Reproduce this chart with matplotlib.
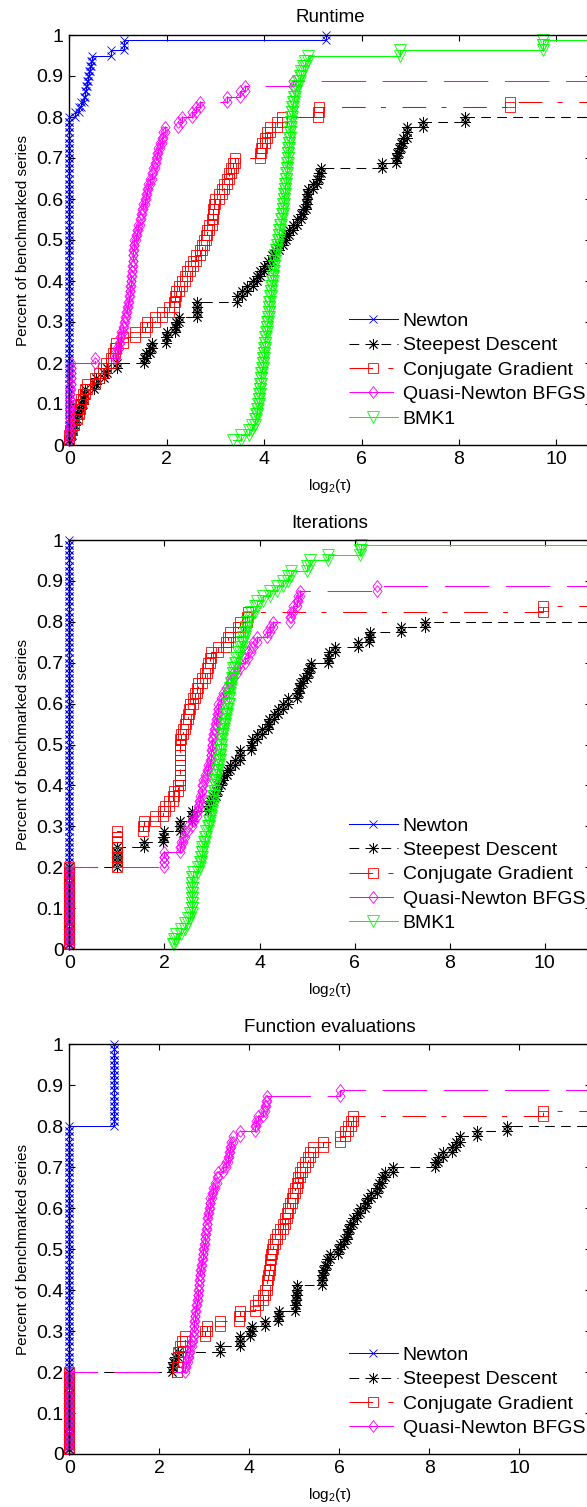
import numpy as np
import matplotlib
matplotlib.use("Agg")
import matplotlib.pyplot as plt
from matplotlib.lines import Line2D

# number of benchmark problems
N_PROBLEMS = 80

TITLES = ["Runtime", "Iterations", "Function evaluations"]
SOLVERS = ["Newton", "Steepest Descent", "Conjugate Gradient",
           "Quasi-Newton BFGS", "BMK1"]
X_TICKS = [0, 2, 4, 6, 8, 10]
Y_TICKS = [0, 0.1, 0.2, 0.3, 0.4, 0.5, 0.6, 0.7, 0.8, 0.9, 1]
X_MAX = [10.7, 10.96, 11.58]

# log2 performance ratios of the solved problems
RT_NEWTON = [0.0] * 64 + [0.12, 0.19, 0.25, 0.30, 0.33, 0.35, 0.37, 0.38,
                          0.40, 0.42, 0.44, 0.47, 0.86, 1.12, 1.12, 5.27]
RT_STEEPEST = [0.0, 0.02, 0.05, 0.08, 0.12, 0.15, 0.19, 0.24, 0.28, 0.30,
               0.32, 0.50, 0.55, 0.72, 0.78, 0.97, 1.53, 1.58, 1.65, 1.69,
               1.99, 2.0, 2.17, 2.2, 2.25, 2.62, 2.62, 2.63, 3.45, 3.55,
               3.65, 3.78, 3.85, 3.92, 4.0, 4.08, 4.16, 4.22, 4.3, 4.38,
               4.45, 4.52, 4.6, 4.67, 4.75, 4.8, 4.85, 4.87, 4.88, 4.9,
               5.0, 5.08, 5.12, 5.16, 6.41, 6.71, 6.72, 6.76, 6.8, 6.86,
               6.93, 6.94, 7.27, 8.12]
RT_CONJGRAD = [0.0, 0.0, 0.02, 0.05, 0.1, 0.15, 0.2, 0.22, 0.25, 0.28,
               0.32, 0.36, 0.53, 0.6, 0.7, 0.75, 0.85, 0.9, 0.94, 0.95,
               1.11, 1.35, 1.55, 1.6, 1.76, 1.9, 2.05, 2.14, 2.18, 2.2,
               2.26, 2.31, 2.38, 2.41, 2.48, 2.53, 2.6, 2.68, 2.72, 2.76,
               2.8, 2.83, 2.87, 2.92, 2.94, 2.96, 2.98, 3.0, 3.08, 3.14,
               3.18, 3.24, 3.28, 3.32, 3.36, 3.4, 3.92, 3.94, 3.96, 4.02,
               4.06, 4.12, 4.26, 4.36, 5.1, 5.12, 9.05]
RT_BFGS = [0.0, 0.0, 0.0, 0.01, 0.01, 0.01, 0.01, 0.02, 0.02, 0.02, 0.02,
           0.03, 0.03, 0.03, 0.03, 0.04, 0.53, 0.94, 0.98, 1.02, 1.04, 1.07,
           1.1, 1.13, 1.14, 1.16, 1.18, 1.2, 1.22, 1.24, 1.25, 1.26, 1.27,
           1.28, 1.29, 1.3, 1.3, 1.31, 1.32, 1.33, 1.36, 1.39, 1.42, 1.45,
           1.48, 1.5, 1.52, 1.55, 1.58, 1.6, 1.62, 1.66, 1.69, 1.72, 1.75,
           1.77, 1.8, 1.83, 1.86, 1.9, 1.93, 1.97, 2.24, 2.31, 2.51, 2.6,
           2.68, 3.23, 3.5, 3.6, 4.6]
RT_BMK1 = [3.37, 3.53, 3.68, 3.75, 3.81, 3.84, 3.86, 3.88, 3.89, 3.9,
           3.91, 3.92, 3.93, 3.94, 3.95, 3.97, 3.98, 3.99, 4.0, 4.01,
           4.02, 4.04, 4.05, 4.06, 4.07, 4.09, 4.1, 4.11, 4.13, 4.14,
           4.15, 4.17, 4.18, 4.19, 4.2, 4.21, 4.23, 4.25, 4.26, 4.28,
           4.3, 4.31, 4.33, 4.35, 4.36, 4.38, 4.39, 4.4, 4.41, 4.42,
           4.43, 4.44, 4.45, 4.46, 4.47, 4.48, 4.49, 4.5, 4.51, 4.52,
           4.53, 4.54, 4.55, 4.56, 4.57, 4.58, 4.6, 4.62, 4.64, 4.66,
           4.7, 4.73, 4.76, 4.8, 4.84, 4.91, 6.79, 9.73, 9.73]

IT_NEWTON = [0.0] * 80
IT_STEEPEST = [0.0] * 16 + [1.0] * 4 + [
    1.57, 1.97, 2.0, 2.33, 2.33, 2.57, 2.58, 2.92, 2.95, 3.03, 3.08, 3.13,
    3.2, 3.24, 3.32, 3.38, 3.48, 3.59, 3.59, 3.83, 3.85, 3.94, 4.05, 4.18,
    4.2, 4.3, 4.39, 4.5, 4.6, 4.78, 4.82, 4.85, 4.92, 4.99, 5.05, 5.09,
    5.44, 5.47, 5.58, 6.07, 6.3, 6.32, 6.98, 7.47]
IT_CONJGRAD = [0.0] * 16 + [1.0] * 7 + [
    1.55, 1.57, 1.8, 1.97, 2.01, 2.1, 2.18, 2.2, 2.29] + [2.33] * 9 + [
    2.35, 2.4, 2.43, 2.46, 2.5, 2.52, 2.54, 2.6, 2.64, 2.68, 2.71, 2.78,
    2.85, 2.9, 2.92, 2.96, 2.99, 3.13, 3.3, 3.34, 3.38, 3.55, 3.6, 3.73,
    3.75, 9.96]
IT_BFGS = [0.0] * 16 + [2.0] * 3 + [
    2.33, 2.35, 2.4, 2.43, 2.5, 2.57, 2.62, 2.68, 2.7, 2.73, 2.75, 2.78,
    2.8, 2.82, 2.86, 2.9, 2.92, 2.95, 2.97, 2.99, 3.0, 3.01, 3.03, 3.05,
    3.06, 3.08, 3.1, 3.12, 3.13, 3.18, 3.24, 3.3, 3.35, 3.38, 3.45, 3.52,
    3.6, 3.69, 3.76, 3.82, 3.87, 3.94, 4.15, 4.22, 4.29, 4.64, 4.67, 4.7,
    4.78, 4.81, 4.85, 6.46]
IT_BMK1 = [2.18, 2.2, 2.25, 2.35, 2.43, 2.5, 2.54] + [2.57] * 7 + [
    2.6, 2.71, 2.74, 2.76, 2.78, 2.8, 2.83, 2.85, 2.88, 2.92, 2.94, 2.96,
    2.99, 3.0, 3.02, 3.03, 3.04, 3.06, 3.07, 3.08, 3.1, 3.12, 3.14, 3.16,
    3.17, 3.18, 3.2, 3.22, 3.24, 3.26, 3.28, 3.3, 3.31, 3.33, 3.35, 3.36,
    3.38, 3.4, 3.42, 3.44, 3.45, 3.48, 3.51, 3.55, 3.6, 3.63, 3.66, 3.69,
    3.72, 3.73, 3.78, 3.83, 3.9, 3.94, 4.08, 4.22, 4.36, 4.5, 4.6, 4.67,
    4.99, 5.06, 5.44, 6.11, 6.14]

FE_NEWTON = [0.0] * 64 + [1.0] * 16
FE_STEEPEST = [0.0] * 16 + [
    2.28, 2.3, 2.35, 2.42, 3.35, 3.79, 3.8, 4.02, 4.05, 4.35, 4.64, 4.66,
    5.02, 5.03, 5.04, 5.05, 5.06, 5.61, 5.62, 5.64, 5.68, 5.72, 5.79, 5.98,
    6.02, 6.1, 6.16, 6.2, 6.24, 6.3, 6.4, 6.46, 6.57, 6.61, 6.7, 6.83, 6.87,
    6.95, 7.02, 7.2, 8.13, 8.2, 8.31, 8.5, 8.6, 8.68, 9.05, 9.72]
FE_CONJGRAD = [0.0] * 16 + [
    2.4, 2.42, 2.42, 2.42, 2.45, 2.5, 2.57, 3.02, 3.06, 3.35, 3.76, 3.8,
    4.13, 4.2, 4.31, 4.35, 4.39, 4.4, 4.42, 4.44, 4.46, 4.47, 4.49, 4.5,
    4.52, 4.57, 4.62, 4.68, 4.74, 4.79, 4.83, 4.87, 4.91, 4.94, 4.98, 5.02,
    5.06, 5.09, 5.13, 5.16, 5.24, 5.3, 5.35, 5.42, 5.64, 6.02, 6.13, 6.2,
    6.25, 6.31, 10.53]
FE_BFGS = [0.0] * 16 + [
    2.57, 2.6, 2.64, 2.67, 2.69, 2.72, 2.74, 2.76, 2.77, 2.78, 2.79, 2.8,
    2.82, 2.83, 2.85, 2.87, 2.88, 2.89, 2.9, 2.91, 2.93, 2.94, 2.96, 2.98,
    2.99, 3.01, 3.02, 3.04, 3.05, 3.06, 3.08, 3.1, 3.12, 3.13, 3.16, 3.2,
    3.24, 3.28, 3.31, 3.42, 3.48, 3.53, 3.55, 3.57, 3.6, 3.64, 3.79, 4.13,
    4.15, 4.2, 4.3, 4.35, 4.38, 4.39, 6.02]

PANELS = [
    [RT_NEWTON, RT_STEEPEST, RT_CONJGRAD, RT_BFGS, RT_BMK1],
    [IT_NEWTON, IT_STEEPEST, IT_CONJGRAD, IT_BFGS, IT_BMK1],
    [FE_NEWTON, FE_STEEPEST, FE_CONJGRAD, FE_BFGS],
]

# diamond a bit taller than wide, like the MATLAB one
DIAMOND = [(0, 1), (0.77, 0), (0, -1), (-0.77, 0), (0, 1)]
STYLES = [
    dict(color="#0000ff", marker="x", ms=6, ls="-"),
    dict(color="#000000", marker=(8, 2, 0), ms=8, ls=(0, (7, 4.5))),
    dict(color="#ff0000", marker="s", ms=7, ls=(0, (17, 11, 3.6, 12))),
    dict(color="#ff00ff", marker=DIAMOND, ms=8.5, ls=(0, (32, 12))),
    dict(color="#00ff00", marker="v", ms=8, ls="-"),
]

plt.rcParams["font.family"] = ["Liberation Sans", "DejaVu Sans"]
plt.rcParams["mathtext.fontset"] = "custom"
plt.rcParams["mathtext.rm"] = "Liberation Sans"
plt.rcParams["mathtext.it"] = "Liberation Sans:italic"
plt.rcParams["lines.scale_dashes"] = False


def stairs(ratios, n, x_end):
    r = np.sort(np.asarray(ratios, dtype=float))
    y = np.arange(1, len(r) + 1) / n
    xs = np.append(np.repeat(r, 2)[1:], x_end)
    ys = np.append(np.repeat(y, 2)[:-1], y[-1])
    return xs, ys


fig = plt.figure(figsize=(5.87, 15.07), dpi=100)
W, H = 587.0, 1507.0
# axes boxes in pixels: left, top, right, bottom
boxes = [(69.3, 35, 590.5, 445), (69.3, 540, 590.5, 949),
         (69.3, 1044.3, 590.5, 1454)]
legend_y = [0.183, 0.182, 0.152]

for i, (title, series) in enumerate(zip(TITLES, PANELS)):
    l, t, r, b = boxes[i]
    ax = fig.add_axes([l / W, 1 - b / H, (r - l) / W, (b - t) / H])
    handles = []
    for ratios, name, st in zip(series, SOLVERS, STYLES):
        xs, ys = stairs(ratios, N_PROBLEMS, 2 * X_MAX[i])
        ax.plot(xs, ys, color=st["color"], linestyle=st["ls"], lw=0.75)
        # markers are drawn whole as long as the vertex is inside the box
        inside = xs <= X_MAX[i]
        ax.plot(xs[inside], ys[inside], ls="none", marker=st["marker"],
                ms=st["ms"], mew=0.6, mfc="none", mec=st["color"],
                clip_on=False)
        handles.append(Line2D([], [], color=st["color"], linestyle=st["ls"],
                              lw=0.75, marker=st["marker"], ms=st["ms"],
                              mew=0.6, mfc="none", mec=st["color"],
                              label=name))
    ax.set_xlim(0, X_MAX[i])
    ax.set_ylim(0, 1)
    ax.set_xticks(X_TICKS)
    ax.set_yticks(Y_TICKS)
    ax.set_yticklabels(["{:g}".format(v) for v in Y_TICKS])
    ax.tick_params(direction="in", top=True, right=True, length=4,
                   width=0.8, labelsize=14, pad=4)
    for sp in ax.spines.values():
        sp.set_linewidth(1.0)
    ax.set_title(title, fontsize=13.5, pad=9)
    ax.set_xlabel(r"log$_2$(τ)", fontsize=11, labelpad=7)
    ax.set_ylabel("Percent of benchmarked series", fontsize=11, labelpad=5)
    ax.legend(handles=handles, loc="center left",
              bbox_to_anchor=(0.537, legend_y[i]),
              frameon=False, fontsize=14, handlelength=2.5,
              handletextpad=0.25, labelspacing=0.35, borderpad=0,
              borderaxespad=0, numpoints=1)

fig.savefig("out.png", dpi=100)
